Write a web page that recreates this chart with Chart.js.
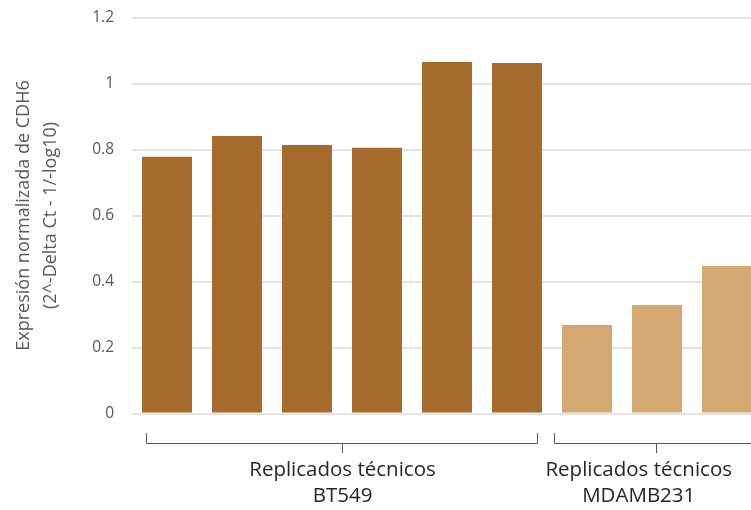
<!DOCTYPE html>
<html>
<head>
<meta charset="utf-8">
<script src="https://cdn.jsdelivr.net/npm/chart.js@4/dist/chart.umd.min.js"></script>
<style>
  html, body { margin: 0; padding: 0; background: #fff; overflow: hidden; }
  #wrap { width: 751px; height: 510px; overflow: hidden; position: relative; }
  canvas { display: block; }
</style>
</head>
<body>
<div id="wrap"><canvas id="c" width="780" height="510"></canvas></div>
<script>
// Technical replicates, CDH6 normalized expression
const categories = ['1', '2', '3', '4', '5', '6', '1', '2', '3'];
const cdh6Expression = [0.778, 0.841, 0.814, 0.805, 1.065, 1.062, 0.268, 0.329, 0.447];
const groupSizes = [6, 3];
const groupLabels = [
  ['Replicados técnicos', 'BT549'],
  ['Replicados técnicos', 'MDAMB231']
];
const groupColors = ['#A66B2C', '#D4A870'];
const yTickLabels = ['0', '0.2', '0.4', '0.6', '0.8', '1', '1.2'];
const yAxisTitle = ['Expresión normalizada de CDH6', '(2^-Delta Ct - 1/-log10)'];

const FONT = "'Open Sans', 'Liberation Sans', sans-serif";
const VISIBLE_WIDTH = 751;

function groupOf(index) {
  let acc = 0;
  for (let g = 0; g < groupSizes.length; g++) {
    acc += groupSizes[g];
    if (index < acc) return g;
  }
  return groupSizes.length - 1;
}

// Multi-level category brackets under the x axis
const groupBrackets = {
  id: 'groupBrackets',
  afterDraw(chart, args, opts) {
    const ctx = chart.ctx;
    const x = chart.scales.x;
    const step = (x.right - x.left) / categories.length;
    const yTop = 433, yLine = 443.5, yTick = 453;
    let start = 0;
    ctx.save();
    groupSizes.forEach((size, g) => {
      const end = start + size - 1;
      const inset = opts.insets[g];
      const left = Math.round(x.getPixelForValue(start) - step / 2 + inset[0]) + 0.5;
      const right = Math.round(x.getPixelForValue(end) + step / 2 - inset[1]) + 0.5;
      const mid = Math.round((left + right) / 2) + 0.5;
      ctx.strokeStyle = '#595959';
      ctx.lineWidth = 1;
      ctx.beginPath();
      ctx.moveTo(left, yTop);
      ctx.lineTo(left, yLine);
      ctx.lineTo(right, yLine);
      ctx.lineTo(right, yTop);
      ctx.moveTo(mid, yLine);
      ctx.lineTo(mid, yTick);
      ctx.stroke();

      ctx.font = opts.fontSize + 'px ' + FONT;
      ctx.fillStyle = '#262626';
      ctx.textAlign = 'center';
      ctx.textBaseline = 'middle';
      const lines = groupLabels[g];
      const w = Math.max(...lines.map(t => ctx.measureText(t).width));
      const cx = Math.min(mid, VISIBLE_WIDTH - opts.edgeMargin - w / 2);
      lines.forEach((t, i) => ctx.fillText(t, cx, opts.lineY[i]));
      start += size;
    });
    ctx.restore();
  }
};

new Chart(document.getElementById('c'), {
  type: 'bar',
  data: {
    labels: categories,
    datasets: [{
      data: cdh6Expression,
      backgroundColor: ctx => groupColors[groupOf(ctx.dataIndex)],
      borderWidth: 0,
      barPercentage: 0.714,
      categoryPercentage: 1.0
    }]
  },
  plugins: [groupBrackets],
  options: {
    responsive: false,
    animation: false,
    layout: { padding: { left: 0, right: 18, top: 17.5, bottom: 0 } },
    plugins: {
      legend: { display: false },
      tooltip: { enabled: false },
      groupBrackets: {
        insets: [[14, 15], [2, 6]],
        fontSize: 20.5,
        lineY: [470, 496],
        edgeMargin: 19
      }
    },
    scales: {
      x: {
        ticks: { display: false },
        grid: { display: false },
        border: { display: false },
        afterFit(scale) { scale.height = 96.5; }
      },
      y: {
        min: 0,
        max: 1.2,
        ticks: {
          stepSize: 0.2,
          padding: 18,
          color: '#595959',
          font: { family: FONT, size: 15.5 },
          callback: (value, index) => yTickLabels[index]
        },
        grid: { color: '#e3e3e3', lineWidth: 2, drawTicks: false },
        border: { display: false },
        title: {
          display: true,
          text: yAxisTitle,
          color: '#595959',
          font: { family: FONT, size: 18, lineHeight: '27px' },
          padding: { top: 10.5, bottom: 0 }
        },
        afterFit(scale) {
          scale.width = 132;
          scale.paddingTop = 0;
          scale.paddingBottom = 0;
        }
      }
    }
  }
});
</script>
</body>
</html>
